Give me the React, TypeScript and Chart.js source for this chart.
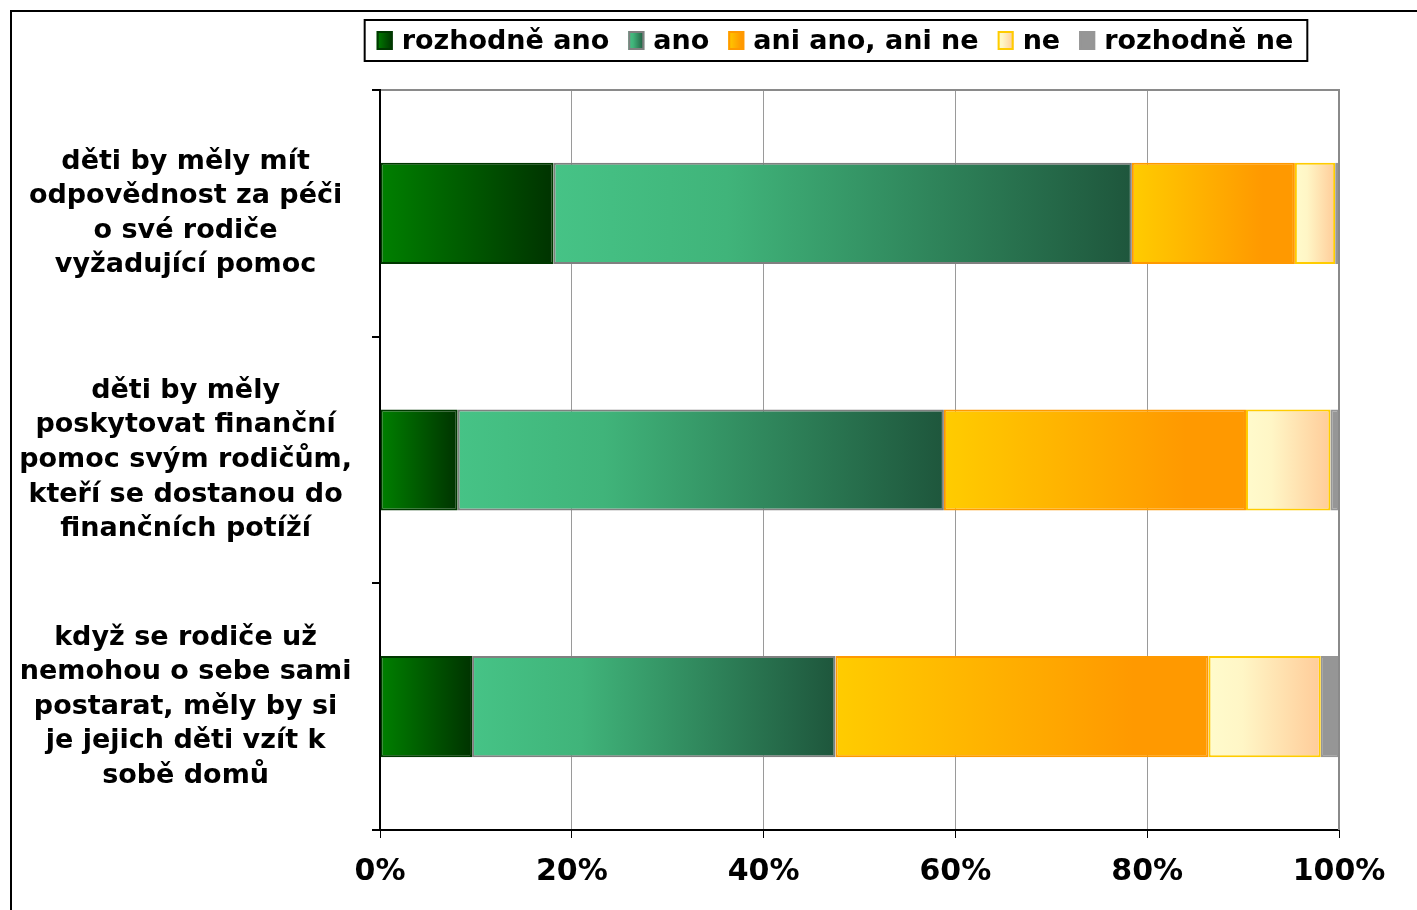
import React, { useEffect, useRef } from "react";
import { Chart, registerables } from "chart.js";

Chart.register(...registerables);

const categories: string[][] = [
  ["děti by měly mít", "odpovědnost za péči", "o své rodiče", "vyžadující pomoc"],
  ["děti by měly", "poskytovat finanční", "pomoc svým rodičům,", "kteří se dostanou do", "finančních potíží"],
  ["když se rodiče už", "nemohou o sebe sami", "postarat, měly by si", "je jejich děti vzít k", "sobě domů"],
];

const seriesNames = ["rozhodně ano", "ano", "ani ano, ani ne", "ne", "rozhodně ne"];

const rozhodneAno = [18.1, 8.1, 9.6];
const ano = [60.3, 50.7, 37.9];
const aniAnoAniNe = [17.0, 31.5, 38.9];
const ne = [4.2, 8.8, 11.7];
const rozhodneNe = [0.4, 0.9, 1.9];

const seriesValues = [rozhodneAno, ano, aniAnoAniNe, ne, rozhodneNe];

const xMin = 0;
const xMax = 100;
const xStep = 20;

const FONT = "'DejaVu Sans', Verdana, sans-serif";

const gradientStops: [number, string][][] = [
  [[0, "#008000"], [1, "#003300"]],
  [[0, "#46C386"], [0.3, "#40B47A"], [1, "#1E563C"]],
  [[0, "#FFCC00"], [0.8, "#FF9900"], [1, "#FF9900"]],
  [[0, "#FFFBCC"], [0.3, "#FFF6C6"], [1, "#FFCC99"]],
  [[0, "#969696"], [1, "#969696"]],
];
const solidColors = ["#006600", "#3A9E6C", "#FFB300", "#FFE8B8", "#969696"];
const borderColors = ["#003800", "#808080", "#FF9900", "#FFCC00", "#969696"];

function makeGradient(ctx: CanvasRenderingContext2D, x0: number, x1: number, di: number) {
  const g = ctx.createLinearGradient(x0, 0, x1, 0);
  gradientStops[di].forEach(([o, c]) => g.addColorStop(o, c));
  return g;
}

const decorPlugin = {
  id: "decor",
  afterDraw(chart: any) {
    const ctx: CanvasRenderingContext2D = chart.ctx;
    const { left, right, top, bottom } = chart.chartArea;
    ctx.save();
    // plot area top & right border
    ctx.strokeStyle = "#8A8A8A";
    ctx.lineWidth = 2;
    ctx.beginPath();
    ctx.moveTo(left + 1, top);
    ctx.lineTo(right, top);
    ctx.lineTo(right, bottom);
    ctx.stroke();
    // outer frame
    ctx.strokeStyle = "#000";
    ctx.lineWidth = 2;
    ctx.beginPath();
    ctx.moveTo(11, chart.height + 5);
    ctx.lineTo(11, 11);
    ctx.lineTo(chart.width + 5, 11);
    ctx.stroke();
    // legend
    ctx.font = `bold 27px ${FONT}`;
    const widths = seriesNames.map((n) => ctx.measureText(n).width);
    const sw = 16, sh = 19, gapST = 9, gapItem = 19;
    const total = widths.reduce((a, w) => a + sw + gapST + w, 0) + gapItem * (seriesNames.length - 1);
    const cx = 835;
    let x = cx - total / 2;
    ctx.strokeStyle = "#000";
    ctx.lineWidth = 2;
    ctx.strokeRect(x - 12, 20, total + 26, 41);
    const cy = 40.5;
    seriesNames.forEach((name, i) => {
      ctx.fillStyle = makeGradient(ctx, x, x + sw, i);
      ctx.fillRect(x, cy - sh / 2, sw, sh);
      ctx.strokeStyle = borderColors[i];
      ctx.lineWidth = 2;
      ctx.strokeRect(x + 1, cy - sh / 2 + 1, sw - 2, sh - 2);
      ctx.fillStyle = "#000";
      ctx.textAlign = "left";
      ctx.textBaseline = "middle";
      ctx.fillText(name, x + sw + gapST, cy + 1);
      x += sw + gapST + widths[i] + gapItem;
    });
    ctx.restore();
  },
};

export default function App() {
  const canvasRef = useRef<HTMLCanvasElement | null>(null);

  useEffect(() => {
    if (!canvasRef.current) return;
    const datasets = seriesNames.map((name, di) => ({
      label: name,
      data: seriesValues[di],
      backgroundColor: (c: any) => {
        const chart = c.chart;
        const xs = chart.scales && chart.scales.x;
        if (!xs || c.type !== "data") return solidColors[di];
        const i = c.dataIndex;
        let start = 0;
        for (let k = 0; k < di; k++) start += seriesValues[k][i];
        const end = start + seriesValues[di][i];
        const x0 = xs.getPixelForValue(start);
        const x1 = xs.getPixelForValue(end);
        if (!isFinite(x0) || !isFinite(x1) || Math.abs(x1 - x0) < 0.5) return solidColors[di];
        return makeGradient(chart.ctx, x0, x1, di);
      },
      borderColor: borderColors[di],
      borderWidth: 2,
      borderSkipped: false as any,
      barPercentage: 0.41,
      categoryPercentage: 1.0,
    }));

    const chart = new Chart(canvasRef.current, {
      type: "bar",
      data: { labels: categories as any, datasets },
      options: {
        indexAxis: "y",
        animation: false,
        responsive: true,
        maintainAspectRatio: false,
        layout: { padding: { top: 90, right: 78, left: 0, bottom: 0 } },
        plugins: { legend: { display: false }, tooltip: { enabled: false } },
        scales: {
          x: {
            stacked: true,
            min: xMin,
            max: xMax,
            ticks: {
              stepSize: xStep,
              callback: (v: any) => `${v}%`,
              color: "#000",
              padding: 16,
              font: { family: FONT, size: 30, weight: "bold" },
            },
            grid: {
              color: "#9A9A9A",
              lineWidth: 1,
              tickColor: "#000",
              tickLength: 8,
            },
            border: { color: "#000", width: 2 },
            afterFit: (s: any) => {
              s.height = 80;
            },
          },
          y: {
            stacked: true,
            ticks: {
              crossAlign: "center",
              padding: 20,
              color: "#000",
              font: { family: FONT, size: 27, weight: "bold", lineHeight: 1.28 },
            },
            grid: {
              drawOnChartArea: false,
              tickColor: "#000",
              tickLength: 8,
              lineWidth: 2,
              color: "#000",
            },
            border: { color: "#000", width: 2 },
            afterFit: (s: any) => {
              s.width = 380;
              s.paddingTop = 0;
              s.paddingBottom = 0;
            },
          },
        },
      } as any,
      plugins: [decorPlugin],
    });
    return () => chart.destroy();
  }, []);

  return (
    <div style={{ position: "absolute", left: 0, top: 0, width: 1417, height: 910, background: "#fff" }}>
      <canvas ref={canvasRef} />
    </div>
  );
}
